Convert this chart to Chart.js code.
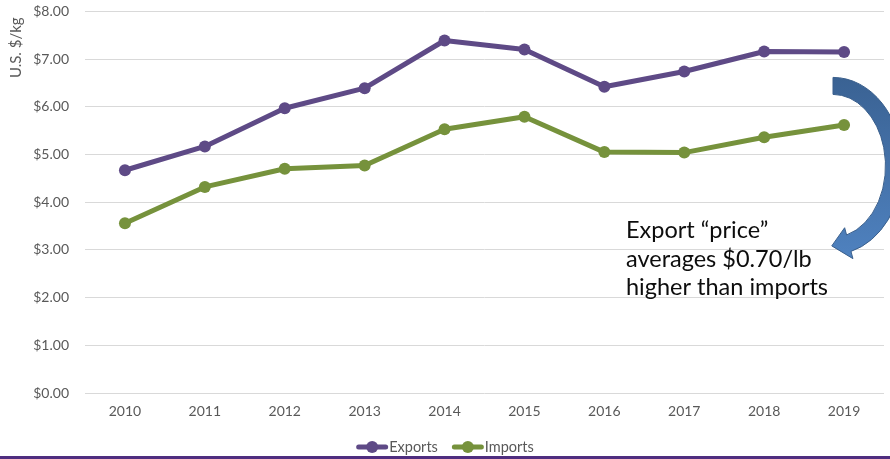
<!DOCTYPE html>
<html>
<head>
<meta charset="utf-8">
<script src="https://cdn.jsdelivr.net/npm/chart.js@4/dist/chart.umd.min.js"></script>
<style>
  html, body { margin: 0; padding: 0; background: #fff; }
  #wrap { width: 890px; height: 459px; position: relative; }
</style>
</head>
<body>
<div id="wrap"><canvas id="c" width="890" height="459"></canvas></div>
<script>
// Average price per kilogram, U.S. dollars
const years = ['2010', '2011', '2012', '2013', '2014', '2015', '2016', '2017', '2018', '2019'];
const exportsPerKg = [4.67, 5.17, 5.97, 6.39, 7.39, 7.20, 6.42, 6.74, 7.16, 7.15];
const importsPerKg = [3.56, 4.32, 4.70, 4.77, 5.53, 5.79, 5.05, 5.04, 5.36, 5.62];
const seriesNames = ['Exports', 'Imports'];
const yAxisTitle = 'U.S. $/kg';
const yMin = 0, yMax = 8, yStep = 1;
const noteLines = ['Export \u201cprice\u201d', 'averages $0.70/lb', 'higher than imports'];

const PURPLE = '#5E4A86';
const GREEN = '#76923C';
const FONT = 'Lato, "Open Sans", "DejaVu Sans", sans-serif';

// Rotated y-axis caption, anchored near the top of the value axis
const axisCaption = {
  id: 'axisCaption',
  afterDraw(chart) {
    const ctx = chart.ctx;
    const a = chart.chartArea;
    ctx.save();
    ctx.translate(16.5, a.top + 6);
    ctx.rotate(-Math.PI / 2);
    ctx.font = '15px ' + FONT;
    ctx.fillStyle = '#595959';
    ctx.textAlign = 'right';
    ctx.textBaseline = 'middle';
    ctx.fillText(yAxisTitle, 0, 0);
    ctx.restore();
  }
};

// Legend drawn as line-with-marker items centred under the x axis
const lineLegend = {
  id: 'lineLegend',
  afterDraw(chart) {
    const ctx = chart.ctx;
    const sets = chart.data.datasets;
    ctx.save();
    ctx.font = '14.5px ' + FONT;
    const markW = 32, gap = 1, itemGap = 14;
    const widths = sets.map(ds => markW + gap + ctx.measureText(ds.label).width);
    const total = widths.reduce((a, b) => a + b, 0) + itemGap * (sets.length - 1);
    let x = chart.width / 2 - total / 2;
    const y = 447;
    sets.forEach((ds, i) => {
      ctx.strokeStyle = ds.borderColor;
      ctx.lineWidth = 5;
      ctx.lineCap = 'round';
      ctx.beginPath();
      ctx.moveTo(x + 2.5, y);
      ctx.lineTo(x + markW - 2.5, y);
      ctx.stroke();
      ctx.fillStyle = ds.borderColor;
      ctx.beginPath();
      ctx.arc(x + markW / 2, y, 6, 0, Math.PI * 2);
      ctx.fill();
      ctx.fillStyle = '#595959';
      ctx.textBaseline = 'middle';
      ctx.textAlign = 'left';
      ctx.fillText(ds.label, x + markW + gap, y + 0.5);
      x += widths[i] + itemGap;
    });
    // purple rule along the bottom edge
    ctx.fillStyle = '#4F2D7F';
    ctx.fillRect(0, chart.height - 3, chart.width, 3);
    ctx.restore();
  }
};

// Curved call-out arrow and note text on the right side of the plot
const noteCallout = {
  id: 'noteCallout',
  afterDatasetsDraw(chart) {
    const ctx = chart.ctx;
    const a = chart.chartArea;
    const cx = a.right - 51, cy = a.top + 154.5;
    const rx = 61, ry = 80, half = 8.5, wing = 16;
    const tEnd = 75 * Math.PI / 180;
    const pt = (r1, r2, t) => [cx + r1 * Math.cos(t), cy + r2 * Math.sin(t)];
    ctx.save();
    const grad = ctx.createLinearGradient(0, cy - ry - half, 0, cy + ry + wing);
    grad.addColorStop(0, '#3A6293');
    grad.addColorStop(1, '#4F82C0');
    ctx.beginPath();
    ctx.ellipse(cx, cy, rx + half, ry + half, 0, -Math.PI / 2, tEnd, false);
    let p = pt(rx + wing, ry + wing, tEnd); ctx.lineTo(p[0], p[1]);
    p = pt(rx, ry, Math.PI / 2 + 0.02); ctx.lineTo(p[0], p[1]);
    p = pt(rx - wing, ry - wing, tEnd); ctx.lineTo(p[0], p[1]);
    p = pt(rx - half, ry - half, tEnd); ctx.lineTo(p[0], p[1]);
    ctx.ellipse(cx, cy, rx - half, ry - half, 0, tEnd, -Math.PI / 2, true);
    ctx.closePath();
    ctx.fillStyle = grad;
    ctx.fill();
    ctx.lineWidth = 1;
    ctx.strokeStyle = '#3A5F8C';
    ctx.stroke();

    ctx.fillStyle = '#0D0D0D';
    ctx.font = '23.5px ' + FONT;
    ctx.textAlign = 'left';
    ctx.textBaseline = 'alphabetic';
    noteLines.forEach((line, i) => {
      ctx.fillText(line, a.left + 541, a.top + 227 + i * 28.4);
    });
    ctx.restore();
  }
};

const money = v => '$' + Number(v).toFixed(2);

new Chart(document.getElementById('c'), {
  type: 'line',
  data: {
    labels: years,
    datasets: [
      { label: seriesNames[0], data: exportsPerKg, borderColor: PURPLE, backgroundColor: PURPLE },
      { label: seriesNames[1], data: importsPerKg, borderColor: GREEN, backgroundColor: GREEN }
    ]
  },
  options: {
    responsive: false,
    animation: false,
    devicePixelRatio: 1,
    layout: { padding: { top: 0, right: 5, bottom: 26, left: 0 } },
    elements: {
      line: { borderWidth: 5, tension: 0, borderJoinStyle: 'round', borderCapStyle: 'round', fill: false },
      point: { radius: 6, hoverRadius: 6, borderWidth: 0 }
    },
    plugins: {
      legend: { display: false },
      tooltip: { enabled: false }
    },
    scales: {
      x: {
        offset: true,
        grid: { display: false, drawTicks: false },
        border: { display: false },
        ticks: { color: '#595959', font: { family: FONT, size: 14 }, padding: 10, maxRotation: 0 },
        afterFit(s) { s.height = 40; }
      },
      y: {
        min: yMin, max: yMax,
        grid: { color: '#D9D9D9', lineWidth: 1, drawTicks: true, tickLength: 13, tickColor: 'rgba(0,0,0,0)' },
        border: { display: false },
        ticks: { stepSize: yStep, color: '#595959', font: { family: FONT, size: 14 }, padding: 3, callback: money },
        afterFit(s) { s.width = 85; }
      }
    }
  },
  plugins: [noteCallout, lineLegend, axisCaption]
});
</script>
</body>
</html>
